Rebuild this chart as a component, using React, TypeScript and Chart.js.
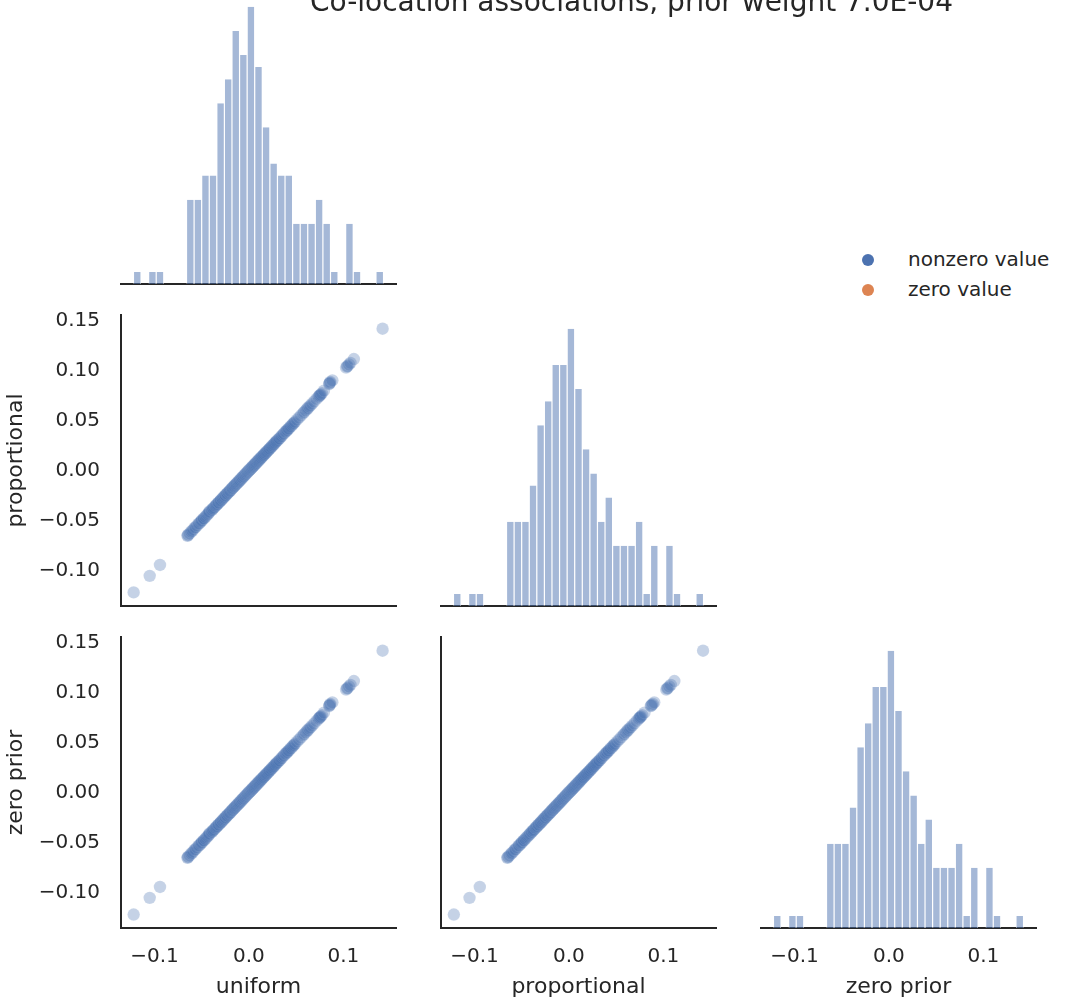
import React, { useEffect, useRef } from 'react';
import { Chart, registerables } from 'chart.js';

Chart.register(...registerables);

const FONT = "'DejaVu Sans', 'Liberation Sans', sans-serif";
const INK = '#262626';

// ---------- text ----------
const title = 'Co-location associations, prior weight 7.0E-04';
const variables = ['uniform', 'proportional', 'zero prior'];
const hueLabels = ['nonzero value', 'zero value'];
const hueColors = ['#4c72b0', '#dd8452'];

// ---------- histogram bins (counts per bin) ----------
const histRange = [-0.1223, 0.1426];
const binCount = 33;
const uniformCounts = [1, 0, 1, 1, 0, 0, 0, 7, 7, 9, 9, 15, 17, 21, 19, 23, 18, 13, 10, 9, 9, 5, 5, 5, 7, 5, 1, 0, 5, 1, 0, 0, 1];
const proportionalCounts = [1, 0, 1, 1, 0, 0, 0, 7, 7, 7, 10, 15, 17, 20, 20, 23, 18, 13, 11, 7, 9, 5, 5, 5, 7, 1, 5, 0, 5, 1, 0, 0, 1];
const zeroPriorCounts = [1, 0, 1, 1, 0, 0, 0, 7, 7, 7, 10, 15, 17, 20, 20, 23, 18, 13, 11, 7, 9, 5, 5, 5, 7, 1, 5, 0, 5, 1, 0, 0, 1];

// ---------- per-item values (scatter) ----------
const uniform = [
  -0.1221, -0.1051, -0.0942,
  -0.0651, -0.0647, -0.0642, -0.0627, -0.0612, -0.0600, -0.0588,
  -0.0572, -0.0565, -0.0549, -0.0532, -0.0526, -0.0511, -0.0502,
  -0.0497, -0.0480, -0.0478, -0.0461, -0.0450, -0.0437, -0.0428,
  -0.0421, -0.0418, -0.0397, -0.0390, -0.0382, -0.0378, -0.0367, -0.0356, -0.0350, -0.0345,
  -0.0339, -0.0332, -0.0325, -0.0320, -0.0318, -0.0307, -0.0303, -0.0298, -0.0294, -0.0284, -0.0282, -0.0278, -0.0270, -0.0267, -0.0260,
  -0.0259, -0.0250, -0.0248, -0.0245, -0.0235, -0.0234, -0.0230, -0.0226, -0.0217, -0.0215, -0.0210, -0.0203, -0.0201, -0.0198, -0.0191, -0.0185, -0.0180,
  -0.0177, -0.0175, -0.0170, -0.0167, -0.0161, -0.0159, -0.0154, -0.0151, -0.0145, -0.0144, -0.0137, -0.0135, -0.0130, -0.0127, -0.0121, -0.0117, -0.0113, -0.0109, -0.0105, -0.0100,
  -0.0099, -0.0093, -0.0091, -0.0083, -0.0081, -0.0077, -0.0071, -0.0069, -0.0067, -0.0059, -0.0057, -0.0055, -0.0047, -0.0045, -0.0041, -0.0037, -0.0033, -0.0029, -0.0025, -0.0021,
  -0.0017, -0.0016, -0.0010, -0.0009, -0.0004, 0.0000, 0.0003, 0.0008, 0.0010, 0.0013, 0.0017, 0.0020, 0.0025, 0.0027, 0.0030, 0.0034, 0.0037, 0.0041, 0.0044, 0.0048, 0.0052, 0.0055, 0.0059,
  0.0064, 0.0068, 0.0073, 0.0077, 0.0082, 0.0086, 0.0092, 0.0095, 0.0099, 0.0104, 0.0108, 0.0113, 0.0117, 0.0122, 0.0126, 0.0131, 0.0137, 0.0140,
  0.0145, 0.0152, 0.0156, 0.0162, 0.0168, 0.0174, 0.0180, 0.0186, 0.0192, 0.0198, 0.0206, 0.0211, 0.0218,
  0.0223, 0.0232, 0.0239, 0.0246, 0.0253, 0.0260, 0.0267, 0.0274, 0.0281, 0.0289, 0.0296,
  0.0308, 0.0317, 0.0325, 0.0338, 0.0348, 0.0361, 0.0371,
  0.0386, 0.0393, 0.0400, 0.0408, 0.0417, 0.0424, 0.0436, 0.0446, 0.0458,
  0.0468, 0.0478, 0.0488, 0.0509, 0.0530,
  0.0551, 0.0573, 0.0585, 0.0602, 0.0616,
  0.0626, 0.0640, 0.0652, 0.0670, 0.0690,
  0.0716, 0.0735, 0.0742, 0.0749, 0.0753, 0.0761, 0.0774,
  0.0795,
  0.0849, 0.0853, 0.0858, 0.0862, 0.0884,
  0.1029, 0.1039, 0.1045, 0.1060, 0.1076,
  0.1112,
  0.1416,
];

const proportional = [
  -0.1219, -0.1053, -0.0944,
  -0.0653, -0.0648, -0.0641, -0.0629, -0.0611, -0.0602, -0.0587,
  -0.0571, -0.0566, -0.0548, -0.0531, -0.0527, -0.0512, -0.0503,
  -0.0496, -0.0481, -0.0477, -0.0462, -0.0449, -0.0438, -0.0427,
  -0.0417, -0.0409, -0.0396, -0.0392, -0.0381, -0.0377, -0.0368, -0.0355, -0.0351, -0.0344,
  -0.0338, -0.0333, -0.0324, -0.0321, -0.0317, -0.0308, -0.0302, -0.0299, -0.0293, -0.0285, -0.0283, -0.0277, -0.0271, -0.0268, -0.0261,
  -0.0258, -0.0251, -0.0249, -0.0244, -0.0236, -0.0233, -0.0231, -0.0225, -0.0218, -0.0216, -0.0209, -0.0204, -0.0202, -0.0197, -0.0192, -0.0186, -0.0181,
  -0.0178, -0.0174, -0.0171, -0.0166, -0.0162, -0.0158, -0.0155, -0.0150, -0.0146, -0.0143, -0.0138, -0.0134, -0.0131, -0.0126, -0.0122, -0.0118, -0.0112, -0.0110, -0.0106, -0.0102,
  -0.0098, -0.0094, -0.0090, -0.0084, -0.0082, -0.0076, -0.0072, -0.0070, -0.0066, -0.0060, -0.0058, -0.0054, -0.0048, -0.0046, -0.0040, -0.0038, -0.0032, -0.0030, -0.0026, -0.0020,
  -0.0018, -0.0015, -0.0011, -0.0008, -0.0003, -0.0001, 0.0004, 0.0007, 0.0009, 0.0014, 0.0016, 0.0021, 0.0024, 0.0026, 0.0031, 0.0033, 0.0038, 0.0040, 0.0045, 0.0047, 0.0051, 0.0056, 0.0060,
  0.0063, 0.0069, 0.0072, 0.0078, 0.0081, 0.0087, 0.0091, 0.0094, 0.0100, 0.0103, 0.0109, 0.0112, 0.0118, 0.0121, 0.0127, 0.0130, 0.0136, 0.0141,
  0.0146, 0.0151, 0.0155, 0.0163, 0.0167, 0.0175, 0.0179, 0.0187, 0.0191, 0.0199, 0.0205, 0.0212, 0.0219,
  0.0224, 0.0233, 0.0238, 0.0247, 0.0252, 0.0261, 0.0266, 0.0275, 0.0282, 0.0290, 0.0298,
  0.0307, 0.0318, 0.0324, 0.0339, 0.0347, 0.0362, 0.0372,
  0.0387, 0.0392, 0.0401, 0.0407, 0.0418, 0.0423, 0.0437, 0.0445, 0.0459,
  0.0469, 0.0477, 0.0489, 0.0510, 0.0531,
  0.0552, 0.0574, 0.0586, 0.0603, 0.0617,
  0.0627, 0.0641, 0.0653, 0.0671, 0.0692,
  0.0718, 0.0737, 0.0744, 0.0751, 0.0755, 0.0763, 0.0776,
  0.0801,
  0.0867, 0.0872, 0.0879, 0.0889, 0.0904,
  0.1031, 0.1041, 0.1047, 0.1063, 0.1079,
  0.1117,
  0.1421,
];

const zeroPrior = [
  -0.1220, -0.1053, -0.0944,
  -0.0653, -0.0648, -0.0641, -0.0629, -0.0611, -0.0602, -0.0587,
  -0.0571, -0.0566, -0.0548, -0.0531, -0.0527, -0.0512, -0.0503,
  -0.0496, -0.0481, -0.0477, -0.0462, -0.0449, -0.0438, -0.0427,
  -0.0417, -0.0409, -0.0396, -0.0392, -0.0381, -0.0377, -0.0368, -0.0355, -0.0351, -0.0344,
  -0.0338, -0.0333, -0.0324, -0.0321, -0.0317, -0.0308, -0.0302, -0.0299, -0.0293, -0.0285, -0.0283, -0.0277, -0.0271, -0.0268, -0.0261,
  -0.0258, -0.0251, -0.0249, -0.0244, -0.0236, -0.0233, -0.0231, -0.0225, -0.0218, -0.0216, -0.0209, -0.0204, -0.0202, -0.0197, -0.0192, -0.0186, -0.0181,
  -0.0178, -0.0174, -0.0171, -0.0166, -0.0162, -0.0158, -0.0155, -0.0150, -0.0146, -0.0143, -0.0138, -0.0134, -0.0131, -0.0126, -0.0122, -0.0118, -0.0112, -0.0110, -0.0106, -0.0102,
  -0.0098, -0.0094, -0.0090, -0.0084, -0.0082, -0.0076, -0.0072, -0.0070, -0.0066, -0.0060, -0.0058, -0.0054, -0.0048, -0.0046, -0.0040, -0.0038, -0.0032, -0.0030, -0.0026, -0.0020,
  -0.0018, -0.0015, -0.0011, -0.0008, -0.0003, -0.0001, 0.0004, 0.0007, 0.0009, 0.0014, 0.0016, 0.0021, 0.0024, 0.0026, 0.0031, 0.0033, 0.0038, 0.0040, 0.0045, 0.0047, 0.0051, 0.0056, 0.0060,
  0.0063, 0.0069, 0.0072, 0.0078, 0.0081, 0.0087, 0.0091, 0.0094, 0.0100, 0.0103, 0.0109, 0.0112, 0.0118, 0.0121, 0.0127, 0.0130, 0.0136, 0.0141,
  0.0146, 0.0151, 0.0155, 0.0163, 0.0167, 0.0175, 0.0179, 0.0187, 0.0191, 0.0199, 0.0205, 0.0212, 0.0219,
  0.0224, 0.0233, 0.0238, 0.0247, 0.0252, 0.0261, 0.0266, 0.0275, 0.0282, 0.0290, 0.0298,
  0.0307, 0.0318, 0.0324, 0.0339, 0.0347, 0.0362, 0.0372,
  0.0387, 0.0392, 0.0401, 0.0407, 0.0418, 0.0423, 0.0437, 0.0445, 0.0459,
  0.0469, 0.0477, 0.0489, 0.0510, 0.0531,
  0.0552, 0.0574, 0.0586, 0.0603, 0.0617,
  0.0627, 0.0641, 0.0653, 0.0671, 0.0692,
  0.0718, 0.0737, 0.0744, 0.0751, 0.0755, 0.0763, 0.0776,
  0.0801,
  0.0867, 0.0872, 0.0879, 0.0889, 0.0904,
  0.1031, 0.1041, 0.1047, 0.1063, 0.1079,
  0.1117,
  0.1421,
];

// ---------- axes ----------
const axisRange = [-0.1355, 0.1558];
const xTickValues = [-0.1, 0, 0.1];
const xTickLabels = ['\u22120.1', '0.0', '0.1'];
const yTickValues = [-0.1, -0.05, 0, 0.05, 0.1, 0.15];
const yTickLabels = ['\u22120.10', '\u22120.05', '0.00', '0.05', '0.10', '0.15'];

// ---------- layout (pixels) ----------
const COL_LEFT = [121, 441, 761];
const ROW_TOP = [-7, 315, 637];
const CELL_W = 275;
const CELL_H = 291;
const PAD = 10;
const Y_AXIS_W = 121;
const X_AXIS_H = 80;

const BAR_FILL = 'rgba(76,114,176,0.5)';
const PT_FILL = ['rgba(76,114,176,0.32)', 'rgba(221,132,82,0.32)'];
const PT_EDGE = 'rgba(255,255,255,0.15)';

Chart.defaults.font.family = FONT;
Chart.defaults.color = INK;

function tickLabel(values: number[], labels: string[]) {
  return (v: number | string) => {
    const n = Number(v);
    const i = values.findIndex((t) => Math.abs(t - n) < 1e-9);
    return i >= 0 ? labels[i] : '';
  };
}

function zeroPadding(s: any) {
  s.paddingTop = 0;
  s.paddingBottom = 0;
  s.paddingLeft = 0;
  s.paddingRight = 0;
}

type Spec = {
  key: string;
  row: number;
  col: number;
  kind: 'hist' | 'scatter';
  counts?: number[];
  xs?: number[];
  ys?: number[];
  xTicks: boolean;
  xTitle?: string;
  yTicks: boolean;
  yTitle?: string;
};

const specs: Spec[] = [
  { key: 'h0', row: 0, col: 0, kind: 'hist', counts: uniformCounts, xTicks: false, yTicks: false },
  { key: 's10', row: 1, col: 0, kind: 'scatter', xs: uniform, ys: proportional, xTicks: false, yTicks: true, yTitle: variables[1] },
  { key: 'h1', row: 1, col: 1, kind: 'hist', counts: proportionalCounts, xTicks: false, yTicks: false },
  { key: 's20', row: 2, col: 0, kind: 'scatter', xs: uniform, ys: zeroPrior, xTicks: true, xTitle: variables[0], yTicks: true, yTitle: variables[2] },
  { key: 's21', row: 2, col: 1, kind: 'scatter', xs: proportional, ys: zeroPrior, xTicks: true, xTitle: variables[1], yTicks: false },
  { key: 'h2', row: 2, col: 2, kind: 'hist', counts: zeroPriorCounts, xTicks: true, xTitle: variables[2], yTicks: false },
];

function Panel({ spec }: { spec: Spec }) {
  const ref = useRef<HTMLCanvasElement>(null);
  const wy = spec.yTicks ? Y_AXIS_W : 0;
  const hx = spec.xTicks ? X_AXIS_H : 0;
  const left = COL_LEFT[spec.col] - wy - PAD;
  const top = ROW_TOP[spec.row] - PAD;
  const width = PAD + wy + CELL_W + PAD;
  const height = PAD + CELL_H + hx + PAD;

  useEffect(() => {
    if (!ref.current) return;
    const xScale: any = {
      type: 'linear',
      min: axisRange[0],
      max: axisRange[1],
      offset: false,
      grid: { display: false, drawTicks: false, offset: false },
      border: { display: true, color: INK, width: 2 },
      ticks: {
        display: spec.xTicks,
        padding: 17,
        color: INK,
        autoSkip: false,
        maxRotation: 0,
        font: { family: FONT, size: 20 },
        callback: tickLabel(xTickValues, xTickLabels),
      },
      title: {
        display: !!spec.xTitle,
        text: spec.xTitle || '',
        color: INK,
        font: { family: FONT, size: 22 },
        padding: { top: 0, bottom: 8 },
      },
      afterBuildTicks: (s: any) => {
        s.ticks = xTickValues.map((v) => ({ value: v }));
      },
      afterFit: (s: any) => {
        s.height = hx;
        zeroPadding(s);
      },
    };

    let config: any;
    if (spec.kind === 'hist') {
      const counts = spec.counts || [];
      const w = (histRange[1] - histRange[0]) / binCount;
      const data = counts.map((c, i) => ({ x: histRange[0] + (i + 0.5) * w, y: c }));
      config = {
        type: 'bar',
        data: {
          datasets: [
            {
              data,
              backgroundColor: BAR_FILL,
              borderColor: '#ffffff',
              borderWidth: { left: 0.6, right: 0.6, top: 0, bottom: 0 },
              borderSkipped: 'start',
              categoryPercentage: 1,
              barPercentage: 1,
              inflateAmount: 0,
            },
          ],
        },
        options: {
          animation: false,
          responsive: false,
          devicePixelRatio: 1,
          events: [],
          layout: { padding: PAD, autoPadding: false },
          plugins: { legend: { display: false }, tooltip: { enabled: false } },
          scales: {
            x: xScale,
            y: { type: 'linear', display: false, min: 0, max: Math.max(...counts) * 1.05 },
          },
        },
      };
    } else {
      const xs = spec.xs || [];
      const ys = spec.ys || [];
      config = {
        type: 'scatter',
        data: {
          datasets: [
            {
              label: hueLabels[0],
              data: xs.map((x, i) => ({ x, y: ys[i] })),
              backgroundColor: PT_FILL[0],
              borderColor: PT_EDGE,
              borderWidth: 0.5,
              pointRadius: 6.2,
            },
            {
              label: hueLabels[1],
              data: [],
              backgroundColor: PT_FILL[1],
              borderColor: PT_EDGE,
              borderWidth: 0.5,
              pointRadius: 6.2,
            },
          ],
        },
        options: {
          animation: false,
          responsive: false,
          devicePixelRatio: 1,
          events: [],
          layout: { padding: PAD, autoPadding: false },
          plugins: { legend: { display: false }, tooltip: { enabled: false } },
          scales: {
            x: xScale,
            y: {
              type: 'linear',
              min: axisRange[0],
              max: axisRange[1],
              grid: { display: false, drawTicks: false },
              border: { display: true, color: INK, width: 2 },
              ticks: {
                display: spec.yTicks,
                padding: 21,
                color: INK,
                autoSkip: false,
                font: { family: FONT, size: 20 },
                callback: tickLabel(yTickValues, yTickLabels),
              },
              title: {
                display: !!spec.yTitle,
                text: spec.yTitle || '',
                color: INK,
                font: { family: FONT, size: 22 },
                padding: { top: 3.5, bottom: 0 },
              },
              afterBuildTicks: (s: any) => {
                s.ticks = yTickValues.map((v) => ({ value: v }));
              },
              afterFit: (s: any) => {
                s.width = wy;
                zeroPadding(s);
              },
            },
          },
        },
      };
    }
    const chart = new Chart(ref.current, config);
    return () => chart.destroy();
  }, []);

  return (
    <canvas
      ref={ref}
      width={width}
      height={height}
      style={{ position: 'absolute', left, top, width, height }}
    />
  );
}

export default function App() {
  return (
    <div
      style={{
        position: 'absolute',
        left: 0,
        top: 0,
        width: 1074,
        height: 1005,
        overflow: 'hidden',
        background: '#ffffff',
      }}
    >
      {specs.map((s) => (
        <Panel key={s.key} spec={s} />
      ))}
      <div
        style={{
          position: 'absolute',
          left: 0,
          width: 1263,
          top: -11.7,
          textAlign: 'center',
          fontFamily: FONT,
          fontSize: 28,
          lineHeight: '28px',
          color: INK,
          whiteSpace: 'nowrap',
        }}
      >
        {title}
      </div>
      {hueLabels.map((lab, i) => (
        <React.Fragment key={lab}>
          <div
            style={{
              position: 'absolute',
              left: 862.3,
              top: 254 + 30 * i,
              width: 12,
              height: 12,
              borderRadius: '50%',
              background: hueColors[i],
            }}
          />
          <div
            style={{
              position: 'absolute',
              left: 908,
              top: 248.5 + 30 * i,
              fontFamily: FONT,
              fontSize: 20,
              lineHeight: '20px',
              color: INK,
              whiteSpace: 'nowrap',
            }}
          >
            {lab}
          </div>
        </React.Fragment>
      ))}
    </div>
  );
}
